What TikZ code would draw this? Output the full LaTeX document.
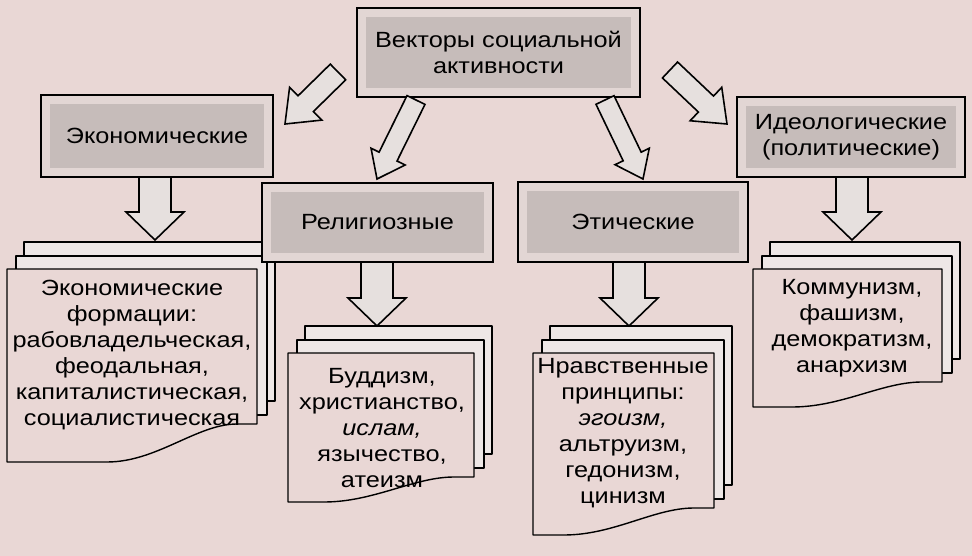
\documentclass[tikz,border=0pt]{standalone}
\usepackage{fontspec}
\setmainfont[FakeStretch=1.15]{Liberation Sans}
\usetikzlibrary{calc}
\definecolor{bg}{RGB}{233,215,213}
\definecolor{boxfill}{RGB}{226,214,212}
\definecolor{boxinner}{RGB}{198,188,186}
\definecolor{arrowfill}{RGB}{230,224,222}
\definecolor{sheetback}{RGB}{238,231,230}
\tikzset{
  vbox/.style={draw=black, line width=1.8pt, fill=boxfill, inner sep=0pt, outer sep=0pt,
    align=center, font=\fontsize{22}{26}\selectfont,
    path picture={\fill[boxinner] ([shift={(9pt,-9pt)}]path picture bounding box.north west)
      rectangle ([shift={(-9pt,9pt)}]path picture bounding box.south east);}},
  stext/.style={align=center, inner sep=0pt, font=\fontsize{22}{26}\selectfont},
  sheet/.style={draw=black, line width=1.4pt, line join=round},
  barrow/.style={draw=black, fill=arrowfill, line width=1.6pt, line join=miter}
}
\newcommand\blockarrow[5]{%
  \path ($(#2)!#5!(#1)$) coordinate (bah);
  \filldraw[barrow] ($(#1)!#3!90:(#2)$) -- ($(bah)!#3!90:(#2)$) -- ($(bah)!#4!90:(#2)$)
    -- (#2) -- ($(bah)!#4!-90:(#2)$) -- ($(bah)!#3!-90:(#2)$) -- ($(#1)!#3!-90:(#2)$) -- cycle;
}
\newcommand\docstack[5]{%
  \filldraw[sheet, fill=sheetback] (#1+17,#3-27) rectangle (#2+18,#4-23);
  \filldraw[sheet, fill=sheetback] (#1+9,#3-13) rectangle (#2+10,#4-9);
  \filldraw[sheet, fill=bg] (#1,#3) -- (#2,#3) -- (#2,#4) -- (#2-20,#4)
    .. controls (#2-60,#4) and (#2-100,#5) .. (#2-150,#5) -- (#1,#5) -- cycle;
}
\begin{document}
\begin{tikzpicture}[x=1pt,y=-1pt]
\fill[bg] (0,0) rectangle (972,556);
\useasboundingbox (0,0) rectangle (972,556);

% economic stack (drawn first, partly under the religious box)
\docstack{7}{257}{269}{424}{462}
\node[stext] (econT) at (132,355) {Экономические\\формации:\\рабовладельческая,\\феодальная,\\капиталистическая,\\социалистическая};

% boxes
\node[vbox, minimum width=283pt, minimum height=89pt] (top) at (498.5,52.5) {Векторы социальной\\активности};
\node[vbox, minimum width=232pt, minimum height=82pt] (econ) at (157,136) {Экономические};
\node[vbox, minimum width=231pt, minimum height=79pt] (relig) at (377.5,222.5) {Религиозные};
\node[vbox, minimum width=230pt, minimum height=80pt] (ethic) at (633,222) {Этические};
\node[vbox, minimum width=228pt, minimum height=80pt] (ideo) at (851,137) {Идеологические\\(политические)};

% other stacks
\docstack{288}{474}{353}{477}{502}
\node[stext] (religT) at (382,428) {Буддизм,\\христианство,\\{\itshape ислам,}\\язычество,\\атеизм};
\docstack{533}{714}{353}{508}{535}
\node[stext] (ethicT) at (623,433) {Нравственные\\принципы:\\{\itshape эгоизм,}\\альтруизм,\\гедонизм,\\цинизм};
\docstack{753}{942}{269}{382}{407}
\node[stext] (ideoT) at (852,328) {Коммунизм,\\фашизм,\\демократизм,\\анархизм};

% diagonal arrows from the top box
\coordinate (a1t) at (338,72);  \coordinate (a1p) at (285,124);
\coordinate (a2t) at (416,100); \coordinate (a2p) at (377,179);
\coordinate (a3t) at (605,100); \coordinate (a3p) at (643,179);
\coordinate (a4t) at (670,70);  \coordinate (a4p) at (727,124);
\blockarrow{a1t}{a1p}{11pt}{23pt}{29pt}
\blockarrow{a2t}{a2p}{10pt}{19pt}{25pt}
\blockarrow{a3t}{a3p}{10pt}{19pt}{25pt}
\blockarrow{a4t}{a4p}{11pt}{23pt}{29pt}

% vertical arrows from boxes to stacks
\coordinate (econTip) at (155,240);
\coordinate (religTip) at (377,326);
\coordinate (ethicTip) at (629,326);
\coordinate (ideoTip) at (852,240);
\coordinate (econTail) at (econTip |- econ.south);
\coordinate (religTail) at (religTip |- relig.south);
\coordinate (ethicTail) at (ethicTip |- ethic.south);
\coordinate (ideoTail) at (ideoTip |- ideo.south);
\blockarrow{econTail}{econTip}{16pt}{29pt}{28pt}
\blockarrow{religTail}{religTip}{16pt}{29pt}{28pt}
\blockarrow{ethicTail}{ethicTip}{16pt}{29pt}{28pt}
\blockarrow{ideoTail}{ideoTip}{16pt}{29pt}{28pt}
\end{tikzpicture}
\end{document}
